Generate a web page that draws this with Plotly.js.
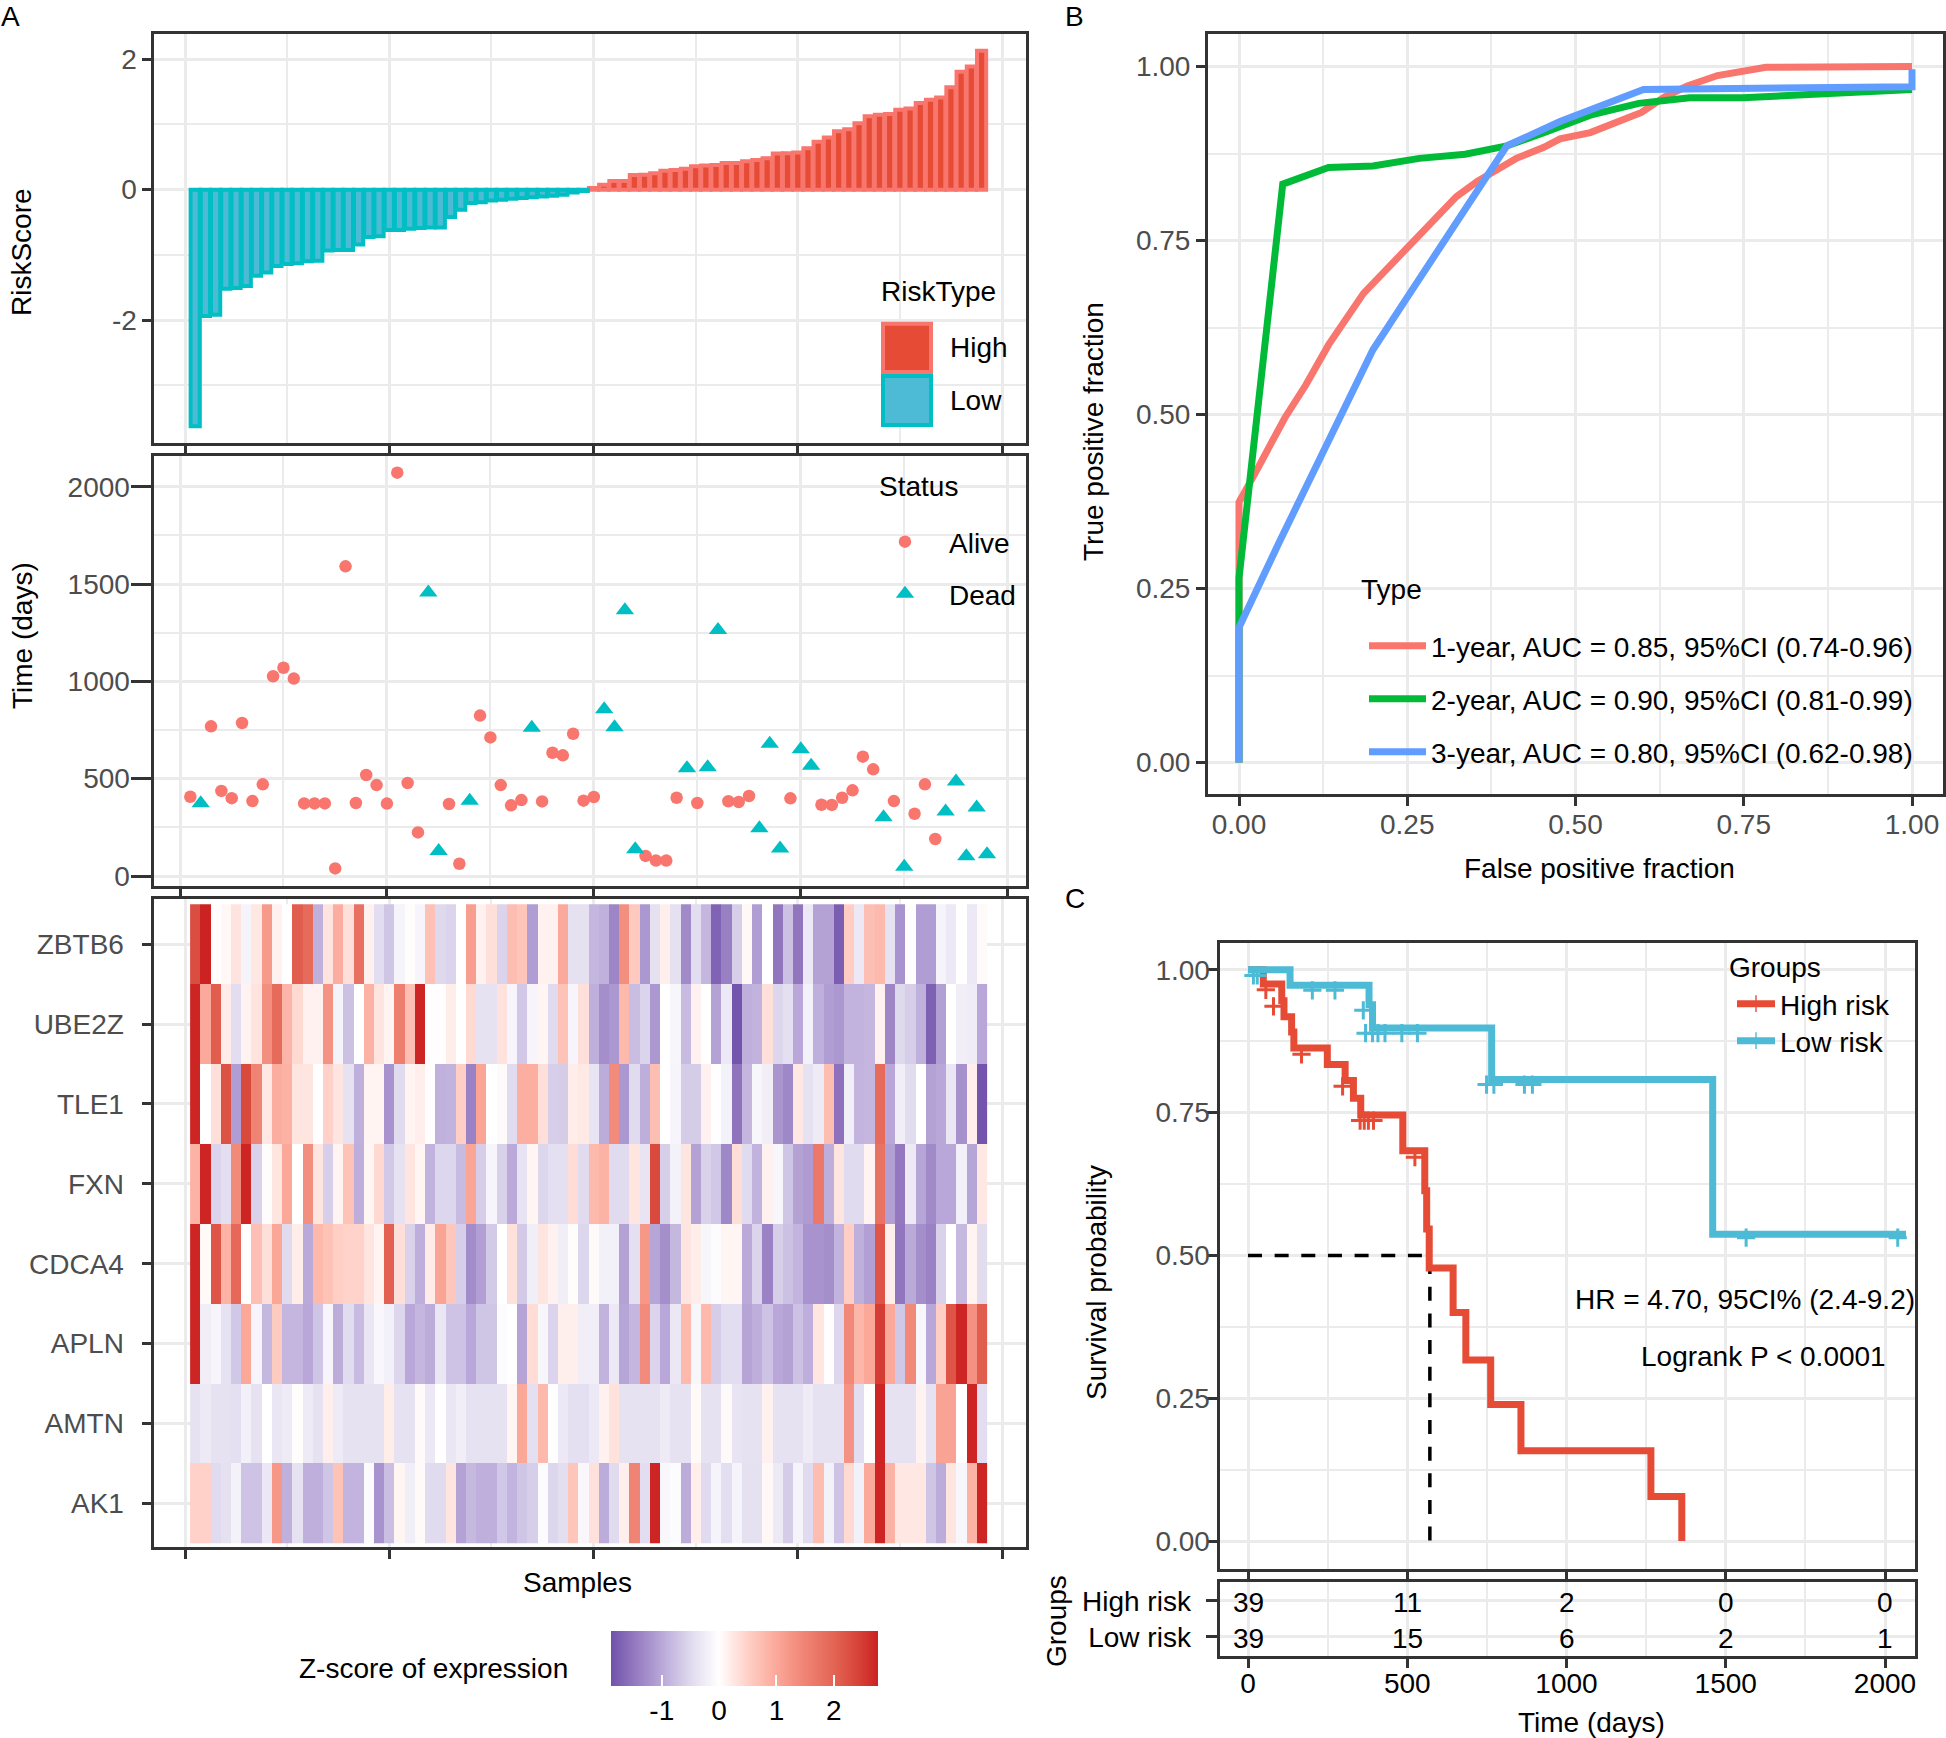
<!DOCTYPE html>
<html>
<head>
<meta charset="utf-8">
<script src="https://cdn.plot.ly/plotly-3.0.1.min.js"></script>
<style>html,body{margin:0;padding:0;background:#fff}#p{width:1946px;height:1738px}</style>
</head>
<body>
<div id="p"></div>
<script>
// ---------- data ----------
const samples = Array.from({length:78},(_,i)=>i+1);
const riskScore = [-3.63,-1.94,-1.92,-1.52,-1.51,-1.48,-1.32,-1.27,-1.17,-1.14,-1.13,-1.10,-1.09,-0.935,-0.925,-0.925,-0.84,-0.725,-0.715,-0.62,-0.62,-0.60,-0.59,-0.58,-0.58,-0.42,-0.31,-0.205,-0.195,-0.165,-0.155,-0.14,-0.13,-0.115,-0.105,-0.095,-0.08,-0.045,-0.02,
0.025,0.075,0.133,0.133,0.225,0.23,0.25,0.29,0.30,0.32,0.36,0.37,0.38,0.41,0.41,0.435,0.455,0.48,0.555,0.56,0.57,0.635,0.735,0.80,0.895,0.925,1.02,1.125,1.15,1.16,1.225,1.245,1.33,1.38,1.415,1.57,1.81,1.89,2.13];
const survivalDays = [407,374,769,437,400,786,385,471,1026,1070,1014,373,373,373,39,1591,375,519,467,372,2072,478,224,1456,129,370,63,386,824,712,467,363,390,762,383,633,620,731,387,406,857,764,1365,138,103,79,79,402,554,375,559,1264,384,380,411,245,680,141,399,651,567,366,365,402,440,613,548,302,385,47,320,471,190,331,485,102,352,112];
const deadSamples = [2,24,25,28,34,41,42,43,44,49,51,52,56,57,58,60,61,68,70,74,75,76,77,78];

const genes = ['AK1','AMTN','APLN','CDCA4','FXN','TLE1','UBE2Z','ZBTB6'];
const ZBTB6 = [2.3,2.8,0.02,0.08,0.3,-0.15,0.25,1.2,0.15,0,2.1,1.9,-0.9,0.3,0.95,0.35,1.8,0.15,-0.45,-0.7,-0.15,0.03,-0.13,0.7,-0.5,-0.55,0,1.15,0.15,0.35,-0.55,0.75,0.65,-1.1,0.15,0.15,1.0,-0.4,-0.4,-0.85,-0.9,-1.35,1.35,0.6,-1.15,-0.4,0.17,-0.4,-1.3,-0.45,-0.85,-1.7,-1.4,-0.6,0.08,-1.1,0,-1.5,-0.75,-1.5,-0.3,-1.05,-1.05,-1.75,0.55,-0.3,0.72,0.8,-0.38,-1.2,-0.03,-1.1,-1.1,-0.15,-0.3,0,-0.3,0.05];
const UBE2Z = [2.75,1.0,2.1,0.22,-0.45,0.13,0.3,1.35,1.9,0.85,0.4,0.15,0.15,1.3,-0.15,-0.75,0,0.88,0.28,0.12,1.6,0.72,2.75,0.02,0.02,0.2,0,0.4,-0.38,-0.38,0.32,-0.13,-0.68,-0.13,0.1,-0.48,0.68,-0.13,0.35,-0.92,-1.25,-1.15,0.8,-0.78,-0.55,-1.15,0,-0.12,-0.8,0.15,0,-1.05,-0.3,-1.85,-0.92,-0.88,0.35,-0.52,-0.42,-1.0,-0.18,-0.92,-1.1,-1.15,-0.88,-0.88,-0.85,0.15,-1.35,-0.5,-0.62,-0.9,-1.72,-1.08,0,-0.22,-0.25,-1.0];
const TLE1 = [2.75,0,0.35,2.25,-1.1,2.35,1.5,0.25,0.95,0.9,0.28,0.28,0,0.5,0.28,-0.38,-0.92,0.12,0.12,-1.2,-0.47,0.12,0.18,0.02,-0.9,-0.88,0.52,-1.38,1.05,0,0.05,-0.47,0.92,0.92,0.35,-0.6,-0.63,0.2,0.24,-0.35,-0.95,1.4,-1.15,-0.47,-0.93,0.72,0,-0.13,-0.63,-0.63,0.15,0.01,-0.17,-1.52,-0.85,-0.12,-0.22,-1.18,-1.32,0.25,-0.38,-0.27,0.75,-1.55,-0.22,-0.87,-0.85,1.9,-1.0,-0.22,-0.46,0,-1.05,-1.0,-0.33,-1.22,0.18,-1.85];
const FXN = [0.88,2.75,-0.55,-0.43,1.42,2.75,-0.57,0.03,0.28,1.02,0,1.35,0.28,-0.6,0.12,0.68,-0.93,0.1,0.42,-0.67,-0.38,0.28,0.1,-0.88,-0.52,-0.52,-0.8,1.05,-0.62,-0.13,-0.58,-0.98,-0.37,0.1,-0.52,-0.42,-0.42,0.37,-0.47,0.8,0.88,-0.48,-0.48,0.28,-0.36,2.35,-0.6,-0.17,0.28,-1.05,-0.57,-0.68,-1.32,0.36,-0.48,-0.88,0.15,-0.12,-0.7,-1.05,-1.12,1.7,-0.93,0.28,-0.48,-0.48,0.12,1.78,-1.08,-1.48,-0.28,-1.02,-1.3,-1.0,-1.0,-0.2,-1.02,0.25];
const CDCA4 = [2.75,0.06,2.2,0.87,1.95,0.01,0.73,0.35,1.03,-0.47,0.2,-0.98,0.8,0.68,0.52,0.48,0.48,0.28,0.12,2.05,0.35,-0.57,-0.93,0.22,1.07,0.63,-0.6,-1.28,-1.08,-0.65,0,0.33,-0.65,-0.23,0.28,0.15,-0.22,0.03,-0.52,0.05,-0.2,-0.2,-1.05,-0.42,1.25,-1.02,-1.25,-0.83,0.28,0.2,-0.12,-0.05,0.1,0.1,-0.98,-0.55,-1.38,-0.6,-0.75,-0.87,-1.2,-1.2,-1.25,-0.87,0.52,-0.92,-1.08,2.2,0.17,-1.5,-0.97,-1.25,-1.38,-0.57,0,-0.82,0.12,-0.46];
const APLN = [2.75,-0.22,-0.13,-0.38,-0.68,1.02,-0.13,-0.83,0.58,-0.85,-0.85,-1.0,-0.7,-0.13,-0.95,-0.46,-0.8,-0.33,-0.1,-0.2,-0.52,-1.0,-0.85,-0.95,-0.33,-0.72,-0.72,-1.0,-0.7,-0.7,-0.05,0,-1.03,0.37,-0.12,-0.55,0.17,0.17,-0.22,-0.22,-0.88,-0.3,-1.02,-0.85,1.4,-0.55,-1.0,-0.32,0.8,-0.12,0.8,-0.62,-0.45,-0.45,-1.03,-0.93,-0.72,-1.0,-1.05,-0.73,-0.93,0.27,0.02,-0.53,1.45,0.83,1.02,2.5,1.0,-0.68,1.45,-0.12,-1.0,0.52,2.2,2.75,1.32,2.1];
const AMTN = [-0.38,-0.28,-0.38,-0.38,-0.42,-0.2,-0.38,0,-0.33,-0.27,0.03,-0.27,-0.38,0.17,-0.26,-0.38,-0.38,-0.38,-0.38,0.2,-0.38,-0.38,0.05,-0.3,0,-0.33,-0.22,-0.38,-0.38,-0.38,-0.38,0.1,1.02,-0.42,0.8,0.01,-0.3,-0.42,-0.42,-0.3,0.15,0.32,-0.38,-0.38,-0.38,-0.38,-0.27,-0.38,-0.38,0.07,-0.38,-0.38,0.05,-0.35,-0.38,-0.38,0.15,-0.38,-0.38,-0.38,-0.27,-0.38,-0.38,-0.38,1.3,-0.45,0.01,2.75,-0.38,-0.38,-0.38,0.13,-0.38,1.08,1.08,0,2.75,-0.45];
const AK1 = [0.5,0.5,-0.47,-0.4,-0.17,-0.72,-0.72,-0.32,1.25,-0.9,-0.38,-0.92,-0.92,-0.7,0.68,-0.87,-0.87,-0.07,-1.2,-0.77,0.1,-0.23,0.05,-0.47,-0.47,0.28,-1.05,-0.82,-0.92,-0.92,-0.68,-0.87,-0.7,-0.6,-0.05,-0.52,-0.43,0.65,-0.1,0.33,-0.95,-0.47,0.18,1.5,-0.45,2.75,-0.1,-0.04,-0.95,0.18,-0.48,-0.15,-0.43,-0.15,-0.4,-0.4,0.08,-0.28,-0.63,-0.15,-0.47,0.75,-0.17,-0.72,0.4,-0.2,1.0,2.75,0.88,0.25,0.25,0.25,-0.7,-0.95,0.28,-0.12,0.88,2.75];

const roc1x = [0,0,0.023,0.068,0.099,0.133,0.185,0.24,0.281,0.323,0.354,0.391,0.412,0.453,0.477,0.522,0.556,0.598,0.632,0.666,0.711,0.749,0.783,1];
const roc1y = [0,0.374,0.414,0.495,0.542,0.60,0.674,0.729,0.773,0.813,0.835,0.857,0.868,0.884,0.896,0.905,0.918,0.934,0.956,0.972,0.987,0.994,0.999,1];
const roc2x = [0,0,0,0.065,0.133,0.199,0.268,0.336,0.398,0.453,0.522,0.594,0.67,0.749,0.866,1];
const roc2y = [0,0.20,0.265,0.831,0.855,0.857,0.868,0.874,0.886,0.905,0.93,0.947,0.955,0.955,0.96,0.967];
const roc3x = [0,0,0.061,0.133,0.199,0.247,0.316,0.398,0.477,0.601,1,1];
const roc3y = [0,0.194,0.319,0.465,0.593,0.664,0.765,0.886,0.921,0.967,0.971,0.996];
const rocNames = ['1-year, AUC = 0.85, 95%CI (0.74-0.96)','2-year, AUC = 0.90, 95%CI (0.81-0.99)','3-year, AUC = 0.80, 95%CI (0.62-0.98)'];

const kmHighT = [0,48,106,113,137,144,249,305,331,354,486,555,561,569,644,684,762,857,1265,1362];
const kmHighS = [1,0.975,0.946,0.918,0.891,0.863,0.834,0.806,0.775,0.746,0.683,0.613,0.546,0.478,0.40,0.317,0.239,0.158,0.078,0];
const kmLowT = [0,132,380,391,765,1459,2066];
const kmLowS = [1,0.973,0.939,0.898,0.808,0.537,0.537];
const censorHighT = [56,80,168,297,352,365,378,394,524];
const censorHighS = [0.965,0.936,0.852,0.796,0.736,0.736,0.736,0.736,0.672];
const censorLowT = [17,29,202,273,362,369,391,408,430,483,532,749,772,868,893,1564,2040];
const censorLowS = [0.99,0.99,0.964,0.964,0.929,0.889,0.889,0.889,0.889,0.889,0.889,0.799,0.799,0.799,0.799,0.531,0.531];
const medianX = [0,571,571];
const medianY = [0.5,0.5,0];

const tableTimes = [0,500,1000,1500,2000];
const tableGroups = ['Low risk','High risk'];
const atRiskHigh = [39,11,2,0,0];
const atRiskLow = [39,15,6,2,1];
const riskTickVals = [-2,0,2];
const riskTickText = ['-2','0','2'];

// ---------- styling ----------
const W=1946,H=1738;
const FONT='"Liberation Sans", Arial, sans-serif';
const FS=28, GRID='#EBEBEB', FRAME='#333333', TICKTXT='#4D4D4D';
const HIGHFILL='#E64B35',HIGHLINE='#F8766D',LOWFILL='#4DBBD5',LOWLINE='#00BFC4';
const zmin=-1.88,zmax=2.78;
const zStops=[[-1.88,'#7052AB'],[-1.5,'#9176BE'],[-1,'#B8A7D8'],[-0.5,'#DFD9EE'],[0,'#FFFFFF'],[0.5,'#FFD1C8'],[1,'#FBA99A'],[1.5,'#F08474'],[2,'#E46555'],[2.4,'#D7463A'],[2.78,'#CC2222']];
const colorscale=zStops.map(s=>[(s[0]-zmin)/(zmax-zmin),s[1]]);

const lerp=(va,pa,vb,pb)=>p=>va+(p-pa)*(vb-va)/(pb-pa);
function xAxis(f0,f1,va,pa,vb,pb,extra){
  const m=lerp(va,pa,vb,pb),a=f0+1.5,b=f1-1.5;
  return Object.assign({domain:[a/W,b/W],range:[m(a),m(b)],toPx:m},common(),extra);
}
function yAxis(f0,f1,va,pa,vb,pb,extra){
  const m=lerp(va,pa,vb,pb),a=f0+1.5,b=f1-1.5;
  return Object.assign({domain:[1-b/H,1-a/H],range:[m(b),m(a)],toPx:m},common(),extra);
}
function common(){return {showline:true,mirror:true,linewidth:3,linecolor:FRAME,showgrid:true,gridcolor:GRID,gridwidth:3,zeroline:false,
  ticks:'outside',tickcolor:FRAME,tickwidth:3,ticklen:9,tickfont:{family:FONT,size:FS,color:TICKTXT},layer:'below traces'};}
const minor=d=>({dtick:d,tick0:0,showgrid:true,gridcolor:GRID,gridwidth:1.5,ticks:''});

const ax1x=xAxis(152,1027,0,185,80,1002,{tickmode:'linear',tick0:0,dtick:20,showticklabels:false,minor:minor(10),anchor:'y'});
const ax1y=yAxis(32.5,444,2,59.3,-2,320,{tickmode:'array',tickvals:riskTickVals,ticktext:riskTickText,ticklen:9,minor:minor(1),anchor:'x',ticklabelstandoff:-1});
const ax2x=xAxis(152,1027,0,180,80,1007.7,{tickmode:'linear',tick0:0,dtick:20,showticklabels:false,minor:minor(10),anchor:'y2'});
const ax2y=yAxis(454,887.3,2000,486.7,0,876,{tickmode:'linear',tick0:0,dtick:500,ticklen:20,minor:minor(250),anchor:'x2',ticklabelstandoff:-5});
const ax3x=xAxis(152,1027,0,185,80,1002,{tickmode:'linear',tick0:0,dtick:20,showticklabels:false,minor:minor(10),anchor:'y3'});
const ax3y=yAxis(897.3,1548,0,1503.4,7,944.2,{type:'category',categoryorder:'array',categoryarray:genes,ticklen:9,anchor:'x3',ticklabelstandoff:12});
const ax4x=xAxis(1206.5,1944,0,1239,1,1912,{tickmode:'linear',tick0:0,dtick:0.25,tickformat:'.2f',minor:minor(0.125),anchor:'y4',ticklabelstandoff:-5});
const ax4y=yAxis(32.5,795,1,66.5,0,762.5,{tickmode:'linear',tick0:0,dtick:0.25,tickformat:'.2f',minor:minor(0.125),anchor:'x4'});
const ax5x=xAxis(1218,1916,0,1248,2000,1885,{tickmode:'linear',tick0:0,dtick:500,showticklabels:false,minor:minor(250),anchor:'y5'});
const ax5y=yAxis(941,1570,1,969.8,0,1541,{tickmode:'linear',tick0:0,dtick:0.25,tickformat:'.2f',minor:minor(0.125),ticklen:10,anchor:'x5',ticklabelstandoff:-9});
const ax6x=xAxis(1218,1916,0,1248,2000,1885,{tickmode:'linear',tick0:0,dtick:500,minor:minor(250),anchor:'y6',ticklabelstandoff:-9,tickfont:{family:FONT,size:FS,color:'#000'}});
const ax6y=yAxis(1580,1657.7,1,1600.7,0,1636.7,{type:'category',categoryorder:'array',categoryarray:tableGroups,ticklen:11,anchor:'x6',ticklabelstandoff:9,tickfont:{family:FONT,size:FS,color:'#000'}});

// ---------- traces ----------
const isDead=s=>deadSamples.includes(s);
const lowIdx=samples.filter(s=>riskScore[s-1]<0), highIdx=samples.filter(s=>riskScore[s-1]>=0);
const aliveIdx=samples.filter(s=>!isDead(s)), deadIdx=samples.filter(isDead);
const legendOf=(t,name,key)=>Object.assign(t,{name,legend:key,showlegend:true});

const kmMarker=(n,col)=>({symbol:'cross-thin',size:Array.from({length:n},(_,i)=>i===0?0.01:0),line:{color:col,width:2.5},color:col});

const data=[
 {type:'bar',x:highIdx,y:highIdx.map(s=>riskScore[s-1]),width:0.9,marker:{color:HIGHFILL,line:{color:HIGHLINE,width:4}},name:'High',showlegend:false,xaxis:'x',yaxis:'y'},
 {type:'bar',x:lowIdx,y:lowIdx.map(s=>riskScore[s-1]),width:0.9,marker:{color:LOWFILL,line:{color:LOWLINE,width:4}},name:'Low',showlegend:false,xaxis:'x',yaxis:'y'},

 legendOf({type:'scatter',mode:'markers',x:aliveIdx,y:aliveIdx.map(s=>survivalDays[s-1]),marker:{symbol:'circle',size:12.5,color:HIGHLINE},xaxis:'x2',yaxis:'y2'},'Alive','legend'),
 legendOf({type:'scatter',mode:'markers',x:deadIdx,y:deadIdx.map(s=>survivalDays[s-1]),marker:{symbol:'triangle-up',size:16,color:LOWLINE},xaxis:'x2',yaxis:'y2'},'Dead','legend2'),

 {type:'heatmap',x:samples,y:genes,z:[AK1,AMTN,APLN,CDCA4,FXN,TLE1,UBE2Z,ZBTB6],zmin,zmax,colorscale,xaxis:'x3',yaxis:'y3',
  colorbar:{orientation:'h',x:611.4/W,xanchor:'left',y:1-1631/H,yanchor:'top',lenmode:'pixels',len:267.4,thicknessmode:'pixels',thickness:54.7,xpad:0,ypad:0,
    outlinewidth:0,tickmode:'array',tickvals:[-1,0,1,2],ticktext:['-1','0','1','2'],ticks:'inside',ticklen:11,tickwidth:2,tickcolor:'#FFFFFF',tickfont:{family:FONT,size:FS,color:'#000'}}},

 legendOf({type:'scatter',mode:'lines',x:roc1x,y:roc1y,line:{color:HIGHLINE,width:7},xaxis:'x4',yaxis:'y4'},rocNames[0],'legend3'),
 legendOf({type:'scatter',mode:'lines',x:roc2x,y:roc2y,line:{color:'#00BA38',width:7},xaxis:'x4',yaxis:'y4'},rocNames[1],'legend4'),
 legendOf({type:'scatter',mode:'lines',x:roc3x,y:roc3y,line:{color:'#619CFF',width:7},xaxis:'x4',yaxis:'y4'},rocNames[2],'legend5'),

 {type:'scatter',mode:'lines',x:medianX,y:medianY,line:{color:'#000',width:3.5,dash:'14px,12.65px'},showlegend:false,xaxis:'x5',yaxis:'y5'},
 legendOf({type:'scatter',mode:'lines+markers',x:kmHighT,y:kmHighS,line:{color:HIGHFILL,width:7,shape:'hv'},marker:kmMarker(kmHighT.length,HIGHFILL),xaxis:'x5',yaxis:'y5'},'High risk','legend6'),
 legendOf({type:'scatter',mode:'lines+markers',x:kmLowT,y:kmLowS,line:{color:LOWFILL,width:7,shape:'hv'},marker:kmMarker(kmLowT.length,LOWFILL),xaxis:'x5',yaxis:'y5'},'Low risk','legend7'),
 {type:'scatter',mode:'markers',x:censorHighT,y:censorHighS,marker:{symbol:'cross-thin',size:13,line:{color:HIGHFILL,width:3}},showlegend:false,xaxis:'x5',yaxis:'y5'},
 {type:'scatter',mode:'markers',x:censorLowT,y:censorLowS,marker:{symbol:'cross-thin',size:13,line:{color:LOWFILL,width:3}},showlegend:false,xaxis:'x5',yaxis:'y5'},
];

// ---------- labels ----------
function note(text,px,py,o){return Object.assign({text,xref:'paper',yref:'paper',x:px/W,y:1-py/H,showarrow:false,xanchor:'center',yanchor:'middle',font:{family:FONT,size:FS,color:'#000'}},o||{});}
const L={xanchor:'left'};
const cell=(v,t,row)=>({text:String(v),xref:'x6',yref:'y6',x:t,y:row,showarrow:false,xanchor:'center',yanchor:'middle',yshift:-2,font:{family:FONT,size:FS,color:'#000'}});
const annotations=[
 note('A',-1,16,L),note('B',1063,16,L),note('C',1063,899,L),
 note('RiskScore',21,252,{textangle:-90}),
 note('Time (days)',22,636,{textangle:-90}),
 note('Samples',577,1582),
 note('Z-score of expression',297,1668,L),
 note('RiskType',879,291.7,L),note('High',948,347.7,L),note('Low',948,401,L),
 note('Status',877,486,L),
 note('True positive fraction',1093,432,{textangle:-90}),
 note('False positive fraction',1599,868),
 note('Type',1359,590,L),
 note('Groups',1727,967,L),
 note('Survival probability',1096,1283,{textangle:-90}),
 note('HR = 4.70, 95CI% (2.4-9.2)',1916.5,1299.5,{xanchor:'right'}),
 note('Logrank P < 0.0001',1887.5,1356.6,{xanchor:'right'}),
 note('Groups',1056,1621,{textangle:-90}),
 note('Time (days)',1591,1722),
 ...atRiskHigh.map((v,i)=>cell(v,tableTimes[i],1)),
 ...atRiskLow.map((v,i)=>cell(v,tableTimes[i],0)),
];

function paperRect(x0,y0,x1,y1,fill,line){return {type:'rect',xref:'paper',yref:'paper',x0:x0/W,x1:x1/W,y0:1-y0/H,y1:1-y1/H,fillcolor:fill,line:{color:line,width:4},layer:'above'};}
function maskRect(xa,ya,xn,yn,x0,y0,x1,y1){return {type:'rect',xref:xn,yref:yn,x0:xa.toPx(x0),x1:xa.toPx(x1),y0:ya.toPx(y1),y1:ya.toPx(y0),fillcolor:'#FFFFFF',line:{width:0},layer:'below'};}
const shapes=[
 paperRect(883,323.7,931,372,HIGHFILL,HIGHLINE),
 paperRect(883,376,931,425,LOWFILL,LOWLINE),
 maskRect(ax2x,ax2y,'x2','y2',878,517,932,624),
 maskRect(ax4x,ax4y,'x4','y4',1361,619,1431,780),
];

function leg(px,py,itemwidth,extra){return Object.assign({x:px/W,y:1-py/H,xanchor:'left',yanchor:'middle',bgcolor:'rgba(0,0,0,0)',borderwidth:0,itemwidth,font:{family:FONT,size:FS,color:'#000'},itemclick:false,itemdoubleclick:false},extra||{});}

const strip=a=>{const c=Object.assign({},a);delete c.toPx;return c;};
const layout={
 width:W,height:H,autosize:false,margin:{l:0,r:0,t:0,b:0,pad:0},paper_bgcolor:'#FFFFFF',plot_bgcolor:'#FFFFFF',
 barmode:'overlay',font:{family:FONT,size:FS,color:'#000'},
 xaxis:strip(ax1x),yaxis:strip(ax1y),xaxis2:strip(ax2x),yaxis2:strip(ax2y),xaxis3:strip(ax3x),yaxis3:strip(ax3y),
 xaxis4:strip(ax4x),yaxis4:strip(ax4y),xaxis5:strip(ax5x),yaxis5:strip(ax5y),xaxis6:strip(ax6x),yaxis6:strip(ax6y),
 legend:leg(861,542,78),legend2:leg(861,594,78),
 legend3:leg(1364,646,57),legend4:leg(1364,699,57),legend5:leg(1364,752,57),
 legend6:leg(1732,1004,38,{itemsizing:'constant'}),legend7:leg(1732,1041,38,{itemsizing:'constant'}),
 annotations,shapes,
};
Plotly.newPlot('p',data,layout,{displayModeBar:false,responsive:false}).then(()=>{
  document.querySelectorAll('.legendlines path').forEach(p=>{p.style.strokeWidth='7px';});
});
</script>
</body>
</html>
